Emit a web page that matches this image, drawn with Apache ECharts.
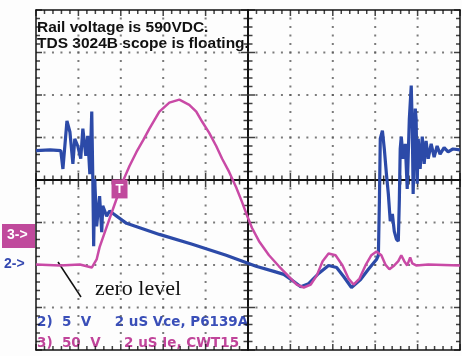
<!DOCTYPE html>
<html>
<head>
<meta charset="utf-8">
<script src="https://cdn.jsdelivr.net/npm/echarts@6/dist/echarts.min.js"></script>
<style>
html,body{margin:0;padding:0;background:#fff}
#container{width:462px;height:356px}
</style>
</head>
<body>
<div id="container"></div>
<script>
// time in uS relative to screen centre (2 uS/div), level in divisions
var vce = [
    [-10, 0.69], [-9.34, 0.71], [-8.83, 0.69], [-8.73, 0.26], [-8.54, 1.39], [-8.40, 1.13],
    [-8.26, 0.38], [-8.17, 0.97], [-8.03, 0.80], [-7.89, 0.50], [-7.79, 1.21], [-7.65, 0.57],
    [-7.56, 1.04], [-7.46, 0.14], [-7.37, 1.61], [-7.32, 0.02], [-7.28, -1.56], [-7.23, 0.02],
    [-7.14, -1.09], [-7.00, -0.38], [-6.90, -1.23], [-6.85, -0.61], [-6.67, -0.85], [-6.53, -0.73],
    [-5.73, -1.02], [-4.18, -1.28], [-2.63, -1.51], [-1.03, -1.77], [0.38, -2.03], [1.22, -2.15],
    [1.69, -2.22], [2.16, -2.39], [2.49, -2.51], [2.86, -2.44], [3.33, -2.20], [3.80, -2.01],
    [4.18, -2.06], [4.51, -2.27], [4.88, -2.53], [5.31, -2.34], [5.68, -2.10], [6.06, -1.87],
    [6.15, -1.77], [6.20, -0.45], [6.24, 0.97], [6.34, 1.16], [6.43, 0.73], [6.53, 0.14],
    [6.62, -0.33], [6.71, -0.97], [6.81, -0.80], [6.90, -1.21], [7.00, -1.39], [7.09, -1.44],
    [7.14, -0.45], [7.18, 0.73], [7.23, 1.02], [7.32, 0.50], [7.42, 0.85], [7.51, -0.21],
    [7.61, 1.44], [7.70, 2.22], [7.75, 1.21], [7.79, -0.33], [7.84, 0.73], [7.89, 1.68],
    [7.93, 1.44], [7.98, -0.09], [8.03, 0.97], [8.12, 0.26], [8.22, 1.02], [8.31, 0.38],
    [8.40, 0.92], [8.50, 0.50], [8.64, 0.85], [8.78, 0.54], [8.92, 0.80], [9.06, 0.61],
    [9.25, 0.76], [9.44, 0.66], [9.67, 0.73], [10, 0.71]
];
var ie = [
    [-10, -1.99], [-8.87, -2.01], [-7.93, -1.99], [-7.37, -2.06], [-7.28, -2.10], [-7.14, -1.87],
    [-7.00, -1.58], [-6.67, -1.11], [-6.29, -0.57], [-5.92, -0.05], [-5.59, 0.33], [-5.26, 0.66],
    [-4.93, 0.95], [-4.65, 1.21], [-4.18, 1.61], [-3.71, 1.82], [-3.24, 1.89], [-2.77, 1.77],
    [-2.44, 1.61], [-2.16, 1.37], [-1.83, 1.11], [-1.50, 0.80], [-1.22, 0.50], [-0.89, 0.19],
    [-0.56, -0.17], [-0.28, -0.52], [-0.05, -0.83], [0.19, -1.13], [0.52, -1.44], [0.99, -1.77],
    [1.46, -2.03], [1.92, -2.27], [2.30, -2.46], [2.63, -2.53], [2.96, -2.46], [3.24, -2.25],
    [3.52, -1.91], [3.80, -1.73], [4.13, -1.77], [4.46, -2.01], [4.74, -2.32], [4.98, -2.46],
    [5.26, -2.32], [5.54, -2.01], [5.82, -1.77], [6.06, -1.68], [6.29, -1.77], [6.48, -1.99],
    [6.67, -2.10], [6.90, -2.01], [7.09, -1.91], [7.23, -1.77], [7.37, -1.91], [7.51, -2.01],
    [7.65, -1.82], [7.75, -1.96], [7.93, -2.01], [8.50, -1.99], [10, -2.01]
];
var trigger = [-6.06, -0.21];
var notes = ['Rail voltage is 590VDC.', 'TDS 3024B scope is floating.'];
var ch2Label = '2)  5  V     2 uS Vce, P6139A';
var ch3Label = '3)  50  V     2 uS Ie, CWT15';

var BLUE = '#2c4aa8', PINK = '#c94aa6', BOX = '#c04a9c';
var XMIN = -10, XMAX = 10, XDIV = 2, YMIN = -4, YMAX = 4, YDIV = 1;

// dotted graticule, 5 dots per division
var dots = [];
for (var gx = XMIN + XDIV; gx < XMAX; gx += XDIV) {
    if (gx == 0) continue;
    for (var j = 1; j < 40; j++) dots.push([gx, +(YMIN + j * YDIV / 5).toFixed(2)]);
}
for (var gy = YMIN + YDIV; gy < YMAX; gy += YDIV) {
    if (gy == 0) continue;
    for (var i = 1; i < 50; i++) dots.push([+(XMIN + i * XDIV / 5).toFixed(2), gy]);
}

// tick marks as small bars on the centre cross and inside the frame
var ticks = [];
for (var i = 0; i <= 50; i++) {
    var v = +(XMIN + i * XDIV / 5).toFixed(2), big = i % 5 == 0, c = big ? 14 : 9, e = big ? 6 : 4;
    ticks.push({ value: [v, 0], symbolSize: [1.5, c] });
    ticks.push({ value: [v, YMIN], symbolSize: [1.5, e], symbolOffset: [0, -e / 2] });
    ticks.push({ value: [v, YMAX], symbolSize: [1.5, e], symbolOffset: [0, e / 2] });
}
for (var j = 0; j <= 40; j++) {
    var v = +(YMIN + j * YDIV / 5).toFixed(2), big = j % 5 == 0, c = big ? 14 : 9, e = big ? 6 : 4;
    ticks.push({ value: [0, v], symbolSize: [c, 1.5] });
    ticks.push({ value: [XMIN, v], symbolSize: [e, 1.5], symbolOffset: [e / 2, 0] });
    ticks.push({ value: [XMAX, v], symbolSize: [e, 1.5], symbolOffset: [-e / 2, 0] });
}

function axis(pos, isX, centre) {
    return {
        type: 'value', position: pos,
        min: isX ? XMIN : YMIN, max: isX ? XMAX : YMAX, interval: isX ? XDIV : YDIV,
        axisLine: { show: true, onZero: centre, onZeroAxisIndex: 0, lineStyle: { color: '#111', width: centre ? 2 : 1.5 } },
        axisTick: { show: false },
        axisLabel: { show: false },
        splitLine: { show: false }
    };
}

var chart = echarts.init(document.getElementById('container'));
chart.setOption({
    animation: false,
    backgroundColor: '#fdfdfd',
    grid: { left: 36, right: 2, top: 10, bottom: 6 },
    xAxis: [axis('bottom', true, true), axis('bottom', true, false), axis('top', true, false)],
    yAxis: [axis('left', false, true), axis('left', false, false), axis('right', false, false)],
    series: [
        {
            type: 'scatter', data: dots, symbol: 'rect', symbolSize: 2, silent: true, z: 1,
            itemStyle: { color: '#5a5a5a' }
        },
        {
            type: 'scatter', data: ticks, symbol: 'rect', silent: true, clip: false, z: 2,
            itemStyle: { color: '#111' }
        },
        {
            type: 'line', data: vce, showSymbol: false, z: 3,
            lineStyle: { color: BLUE, width: 3.2 }
        },
        {
            type: 'line', data: ie, showSymbol: false, z: 4,
            lineStyle: { color: PINK, width: 2.5 },
            markPoint: {
                symbol: 'rect', symbolSize: [16, 19],
                itemStyle: { color: BOX },
                label: { show: true, formatter: 'T', color: '#fff', fontWeight: 'bold', fontSize: 13, fontFamily: 'Liberation Sans' },
                data: [{ coord: trigger }]
            }
        }
    ],
    graphic: [
        { type: 'text', left: 37, top: 20, style: { text: notes[0], font: 'bold 15.5px "Liberation Sans"', fill: '#111' } },
        { type: 'text', left: 37, top: 36, style: { text: notes[1], font: 'bold 15.5px "Liberation Sans"', fill: '#111' } },
        { type: 'text', left: 37, top: 315, style: { text: ch2Label, font: 'bold 13.5px "DejaVu Sans"', fill: '#3a4fb8' } },
        { type: 'text', left: 37, top: 336, style: { text: ch3Label, font: 'bold 13.5px "DejaVu Sans"', fill: '#c0449a' } },
        { type: 'text', left: 95, top: 278, style: { text: 'zero level', font: '22px "Liberation Serif"', fill: '#111' } },
        { type: 'line', shape: { x1: 58, y1: 262, x2: 81, y2: 297 }, style: { stroke: '#111', lineWidth: 1.5 } },
        { type: 'rect', left: 2, top: 224, shape: { width: 33, height: 24 }, style: { fill: BOX } },
        { type: 'text', left: 7, top: 228, style: { text: '3->', font: 'bold 14px "Liberation Sans"', fill: '#fff' } },
        { type: 'text', left: 4, top: 257, style: { text: '2->', font: 'bold 14px "Liberation Sans"', fill: '#3448b0' } }
    ]
});
</script>
</body>
</html>
